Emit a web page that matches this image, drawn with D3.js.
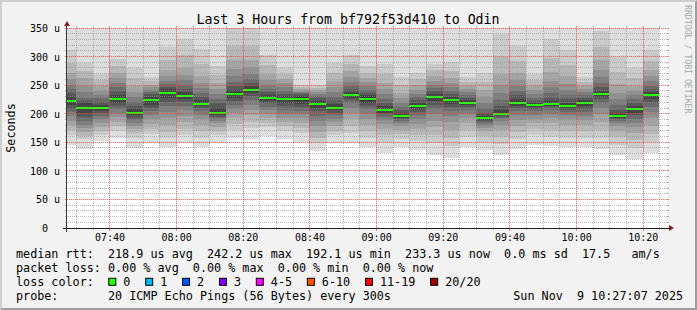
<!DOCTYPE html>
<html><head><meta charset="utf-8">
<script src="https://cdn.jsdelivr.net/npm/d3@7"></script>
<style>
html,body{margin:0;padding:0;background:#f2f2f2;}
svg{display:block;}
text{font-family:"DejaVu Sans Mono",monospace;white-space:pre;fill:#000;}
</style></head><body>
<svg id="chart" width="697" height="310"></svg>
<script>
// ---------------- data ----------------
const title = "Last 3 Hours from bf792f53d410 to Odin";
const yLabel = "Seconds";
const watermark = "RRDTOOL / TOBI OETIKER";
const day = "2025-11-09";
const rangeStart = "07:27:07", rangeEnd = "10:27:07";

const barTimes = ["07:25","07:30","07:35","07:40","07:45","07:50","07:55","08:00","08:05","08:10","08:15","08:20",
  "08:25","08:30","08:35","08:40","08:45","08:50","08:55","09:00","09:05","09:10","09:15","09:20",
  "09:25","09:30","09:35","09:40","09:45","09:50","09:55","10:00","10:05","10:10","10:15","10:20"];

// 20 sorted ping times per interval (microseconds)
const pings = [
 [145,162,171,180,188,196,203,209,215,221,224.6,230,236,243,251,260,272,288,311,395],
 [138,155,161,168,175,181,188,195,201,208,212,218,223,228,238,248,262,274,289,372],
 [153,163,170,177,184,190,196,201,205,208,212,216,221,227,233,240,249,259,270,380],
 [158,170,178,186,194,201,208,214,219,224,227.4,233,239,246,254,262,272,283,296,402],
 [140,158,166,173,179,184,189,193,197,199,203,208,214,221,229,238,249,263,280,389],
 [149,165,174,182,190,197,204,210,216,222,226,230,234,238,242,246,251,258,265,366],
 [142,157,168,180,192,203,213,221,228,235,238.6,243,247,252,258,266,277,294,316,410],
 [149,163,174,185,196,206,214,220,225,229,233,238,244,251,259,268,280,302,330,420],
 [142,158,170,181,190,198,205,210,213,215,219,224,230,237,245,254,266,287,313,398],
 [149,162,170,177,183,188,192,195,197,199,203,210,218,226,234,243,254,267,284,377],
 [157,172,182,192,201,209,216,222,228,233,236,241,248,256,266,278,294,318,352,430],
 [156,175,186,197,207,216,224,231,236,240.4,244,248,254,261,270,281,294,318,355,440],
 [161,176,184,192,199,206,212,218,222,226,229,233,238,244,251,259,270,285,303,391],
 [155,170,178,186,193,200,207,213,219,224,227.4,231,235,240,246,253,261,270,280,374],
 [151,166,175,184,192,199,205,211,217,223,228.4,231,234,236,238,240,243,247,251,362],
 [135,148,158,168,178,188,196,204,210,215,219,223,227,231,235,238,241,245,250,365],
 [149,162,170,178,185,191,197,202,206,208,212,217,223,230,238,247,258,271,288,380],
 [149,166,178,190,201,210,218,224,228,231,234.5,238,243,249,256,264,274,287,303,398],
 [142,158,170,181,191,200,208,214,219,223,228.4,232,237,242,248,255,263,272,283,381],
 [131,150,162,173,182,189,195,199,202,205,208,213,219,226,234,243,254,269,287,377],
 [141,155,164,172,178,183,187,190,193,195,197,201,206,212,219,227,237,250,265,369],
 [136,152,163,173,182,190,197,203,208,212,215,219,224,229,235,242,250,260,271,372],
 [128,148,163,176,188,199,208,216,222,227.5,231,235,240,245,251,258,266,276,287,384],
 [123,143,158,172,185,196,205,212,217,222,226,230,235,240,246,253,262,275,291,386],
 [142,160,172,183,192,200,206,211,215,217,220.5,224,228,233,238,243,249,256,265,368],
 [136,151,161,169,175,180,184,187,189,191,193.2,196,202,210,219,229,241,255,272,376],
 [128,147,160,171,180,187,192,195,197,198,201,206,214,224,236,251,270,300,340,428],
 [139,156,168,179,189,197,204,210,214,217,220.5,225,232,240,249,259,272,292,319,407],
 [145,162,173,183,191,198,204,209,212,214,216.5,219,223,228,234,241,249,259,270,371],
 [143,160,172,183,192,200,206,211,214,216,218,222,228,236,246,258,273,297,330,416],
 [141,158,170,181,190,197,203,207,210,212,215,219,225,232,241,252,266,285,311,401],
 [141,158,170,180,189,196,203,209,213,217,220.5,224,228,233,238,243,249,256,265,367],
 [138,157,172,186,199,210,219,226,230,233,236,240,246,254,264,277,294,317,345,432],
 [128,146,159,170,178,184,188,191,193,195,197,201,207,215,225,237,252,273,300,392],
 [121,140,154,166,176,184,191,197,202,206.5,210,214,219,225,232,240,249,262,280,378],
 [131,150,165,179,192,203,212,220,226,231.6,235,238,243,249,257,266,277,292,311,404]
];

const medians = [222.8,210,210,225.7,201,224,236.8,231,217,201,234.5,242.2,227.5,225.7,225.7,217,210,232.75,
  225.7,206.5,196,213.5,229.25,224,218.75,192.1,199.5,218.75,215.25,217,213.5,218.75,234.5,196,208.25,233.3];

const yTickValues = [0,50,100,150,200,250,300,350];
const xTickLabels = ["07:40","08:00","08:20","08:40","09:00","09:20","09:40","10:00","10:20"];

const rttStats = [["218.9","us avg"],["242.2","us max"],["192.1","us min"],["233.3","us now"],["0.0","ms sd"]];
const rttAmS = "17.5";
const lossStats = [["0.00","% avg"],["0.00","% max"],["0.00","% min"],["0.00","% now"]];
const lossLabels = ["0","1","2","3","4-5","6-10","11-19","20/20"];
const lossColors = ["#26ff00","#00b8ff","#0059ff","#7e00ff","#ff00ff","#ff5500","#ff0000","#a10000"];
const probeText = "20 ICMP Echo Pings (56 Bytes) every 300s";
const dateText = "Sun Nov  9 10:27:07 2025";

// ---------------- layout ----------------
const W = 697, H = 310;
const X0 = 67, X1 = 667, Y0 = 228, Y1 = 28;
const svg = d3.select("#chart");
const parse = d3.timeParse("%Y-%m-%d %H:%M:%S");
const x = d3.scaleTime().domain([parse(day+" "+rangeStart), parse(day+" "+rangeEnd)]).range([X0, X1]);
const y = d3.scaleLinear().domain([0, 350]).range([Y0, Y1]);

const minorCol = "rgba(143,143,143,0.6)", majorCol = "rgba(225,70,70,0.6)", majorFaint = "rgba(225,70,70,0.22)";

// background & 3d frame
svg.append("rect").attr("width", W).attr("height", H).attr("fill", "#f2f2f2");
svg.append("path").attr("fill", "#cfcfcf")
  .attr("d", `M0,${H} L2,${H-2} L2,2 L${W-2},2 L${W},0 L0,0 Z`);
svg.append("path").attr("fill", "#9e9e9e")
  .attr("d", `M2,${H-2} L${W-2},${H-2} L${W-2},2 L${W},0 L${W},${H} L0,${H} Z`);

// canvas
svg.append("rect").attr("x", X0).attr("y", Y1).attr("width", X1-X0).attr("height", Y0-Y1).attr("fill", "#fff");

svg.append("defs").append("clipPath").attr("id", "plotclip")
  .append("rect").attr("x", X0).attr("y", Y1).attr("width", X1-X0).attr("height", Y0-Y1);

const plot = svg.append("g").attr("clip-path", "url(#plotclip)").attr("shape-rendering", "crispEdges");

const half = 10;
const bandColor = i => { const c = Math.floor(190/half*(half-i))+50; const h = c.toString(16).padStart(2,"0"); return "#"+h+h+h; };

barTimes.forEach((t, bi) => {
  const t0 = parse(day+" "+t+":00");
  const t1 = d3.timeMinute.offset(t0, 5);
  const xa = Math.max(Math.floor(x(t0)), X0), xb = Math.min(Math.floor(x(t1)), X1);
  const p = pings[bi];
  const g = plot.append("g");
  for (let i = 1; i <= half; i++) {
    const lo = p[i-1], hi = p[20-i];
    g.append("rect").attr("x", xa).attr("width", xb-xa)
      .attr("y", y(hi)).attr("height", y(lo)-y(hi)).attr("fill", bandColor(i));
  }
  g.append("rect").attr("x", xa).attr("width", xb-xa)
    .attr("y", Math.round(y(medians[bi]))-1).attr("height", 2).attr("fill", lossColors[0]);
});

// grid (on top, like rrdtool), dotted: one 1px square per dot
const grid = svg.append("g").attr("shape-rendering", "crispEdges");
function dots(xs, ys, horizontal, n) {
  let d = "";
  for (let k = 0; k < n; k += 2) {
    const px = horizontal ? xs + k : xs, py = horizontal ? ys : ys + k;
    d += `M${px},${py}h1v1h-1z`;
  }
  return d;
}
d3.range(10, 351, 10).forEach(v => {
  const yy = Math.floor(y(v));
  const major = v % 50 === 0;
  const col = major ? majorCol : minorCol;
  const ext = major ? 2 : 1;
  if (major) grid.append("rect").attr("x", X0-ext).attr("y", yy).attr("width", X1-X0+2*ext).attr("height", 1).attr("fill", majorFaint);
  let d = dots(X0-ext, yy, true, X1-X0+2*ext);
  d += `M${X0-2},${yy}h2v1h-2z M${X1},${yy}h2v1h-2z`;
  grid.append("path").attr("d", d).attr("fill", col);
});
const majorTimes = xTickLabels.map(s => +parse(day+" "+s+":00"));
d3.timeMinute.every(5).range(x.domain()[0], x.domain()[1]).forEach(t => {
  const xx = Math.floor(x(t));
  const major = majorTimes.includes(+t);
  const col = major ? majorCol : minorCol;
  if (major) grid.append("rect").attr("x", xx).attr("y", Y1).attr("width", 1).attr("height", Y0-Y1).attr("fill", majorFaint);
  let d = dots(xx, Y1+1, false, Y0-Y1-1);
  d += `M${xx},${Y0}h1v${major ? 3 : 2}h-1z M${xx},${Y1-2}h1v2h-1z`;
  grid.append("path").attr("d", d).attr("fill", col);
});

// axes lines & arrows
const ax = svg.append("g").attr("shape-rendering", "crispEdges");
ax.append("rect").attr("x", X0-4).attr("width", X1-X0+8).attr("y", Y0).attr("height", 1).attr("fill", "#1f1f1f");
ax.append("rect").attr("x", X0-1).attr("width", 1).attr("y", Y1-4).attr("height", Y0-Y1+8).attr("fill", "#3a3a3a");
svg.append("path").attr("fill", "#7f1f1f").attr("d", `M${X1+2},${Y0-3} L${X1+2},${Y0+3} L${X1+7},${Y0} Z`);
svg.append("path").attr("fill", "#7f1f1f").attr("d", `M${X0-3},${Y1-2} L${X0+3},${Y1-2} L${X0},${Y1-7} Z`);

// y tick labels (D3 axis, styled like rrdtool)
const yAxis = d3.axisLeft(y).tickValues(yTickValues).tickSize(0).tickPadding(0)
  .tickFormat(v => (v === 0 ? "0  " : v + " u").padStart(5, " "));
const yg = svg.append("g").call(yAxis);
yg.select(".domain").remove();
yg.selectAll("text").attr("x", 30).attr("dy", null).attr("y", 3.5)
  .attr("text-anchor", "start").style("font-family", '"DejaVu Sans Mono",monospace').style("font-size", "10px").attr("fill", "#000");

// x tick labels
const fmt = d3.timeFormat("%H:%M");
const xAxis = d3.axisBottom(x).tickValues(majorTimes.map(t => new Date(t))).tickSize(0).tickPadding(0).tickFormat(fmt);
const xg = svg.append("g").attr("transform", `translate(-0.5,${Y0})`).call(xAxis);
xg.select(".domain").remove();
xg.selectAll("text").attr("dy", null).attr("y", 13)
  .style("font-family", '"DejaVu Sans Mono",monospace').style("font-size", "10px").attr("fill", "#000");

// title
svg.append("text").attr("x", 348).attr("y", 23.5).attr("text-anchor", "middle")
  .style("font-size", "13.25px").text(title);

// y label
svg.append("text").attr("transform", "translate(14.5,128) rotate(-90)").attr("text-anchor", "middle")
  .style("font-size", "11.76px").text(yLabel);

// watermark
svg.append("text").attr("transform", "translate(684.5,5) rotate(90)").attr("text-anchor", "start")
  .style("font-size", "8.2px").style("fill", "#a8a8a8").text(watermark);

// legend
const cw = 7.08, fs = "11.76px", LX = 16;
const rows = [258.3, 272, 285.8, 299.5];
const row1 = "median rtt:  " + rttStats.map(d => d[0] + " " + d[1]).join("  ") + "  " + rttAmS + "   am/s";
svg.append("text").attr("x", LX).attr("y", rows[0]).style("font-size", fs).text(row1);
const row2 = "packet loss: " + lossStats.map(d => d[0] + " " + d[1]).join("  ");
svg.append("text").attr("x", LX).attr("y", rows[1]).style("font-size", fs).text(row2);
svg.append("text").attr("x", LX).attr("y", rows[2]).style("font-size", fs).text("loss color:");
let lx = 108.3;
lossLabels.forEach((lab, i) => {
  svg.append("rect").attr("x", lx+0.5).attr("y", rows[2]-7.5).attr("width", 7).attr("height", 7)
    .attr("fill", lossColors[i]).attr("stroke", "#000").attr("stroke-width", 1);
  svg.append("text").attr("x", lx+15).attr("y", rows[2]).style("font-size", fs).text(lab);
  lx += 15 + lab.length*cw + 14.8;
});
svg.append("text").attr("x", LX).attr("y", rows[3]).style("font-size", fs).text("probe:       " + probeText);
svg.append("text").attr("x", 513.3).attr("y", rows[3]).style("font-size", fs).text(dateText);
</script>
</body></html>
